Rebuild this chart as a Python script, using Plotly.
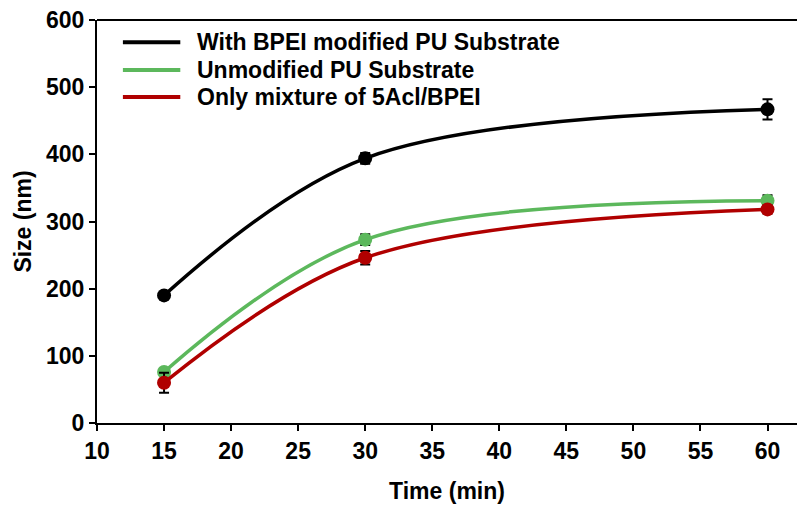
import plotly.graph_objects as go

time = [15, 30, 60]
bpei_mod = [190, 394, 467]
bpei_mod_err = [4, 8, 15]
unmod = [76, 273, 331]
unmod_err = [4, 8, 8]
mixture = [60, 246, 318]
mixture_err = [15, 10, 6]

names = ["With BPEI modified PU Substrate", "Unmodified PU Substrate", "Only mixture of 5Acl/BPEI"]
colors = ["#000000", "#5cb85c", "#b00000"]
series = [(bpei_mod, bpei_mod_err), (unmod, unmod_err), (mixture, mixture_err)]

font_fam = "Liberation Sans, Arial, sans-serif"
FS = 23

fig = go.Figure()
for name, col, (vals, err) in zip(names, colors, series):
    fig.add_trace(go.Scatter(
        x=time, y=vals, name=name, mode="lines+markers", showlegend=False,
        line=dict(color=col, width=3.5, shape="spline", smoothing=1.0),
        marker=dict(color=col, size=14, symbol="circle"),
        error_y=dict(type="data", array=err, color="#000000", thickness=2, width=5),
    ))

# manual legend (line swatches + text)
leg_y = [0.945, 0.876, 0.809]
for name, col, yy in zip(names, colors, leg_y):
    fig.add_shape(type="line", xref="paper", yref="paper", x0=0.037, x1=0.119, y0=yy, y1=yy,
                  line=dict(color=col, width=4))
    fig.add_annotation(xref="paper", yref="paper", x=0.140, y=yy, text=name, showarrow=False,
                       xanchor="left", yanchor="middle",
                       font=dict(size=FS, family=font_fam, color="black", weight="bold"))

fig.update_layout(
    width=797, height=506,
    margin=dict(l=97, r=0, t=20, b=83, autoexpand=False),
    plot_bgcolor="white", paper_bgcolor="white",
    font=dict(family=font_fam, color="black", size=FS),
    showlegend=False,
)
fig.update_xaxes(
    range=[10, 62.2], tickvals=[10, 15, 20, 25, 30, 35, 40, 45, 50, 55, 60],
    showline=True, linecolor="black", linewidth=2, mirror=False, automargin=False,
    ticks="outside", ticklen=6, tickwidth=2, tickcolor="black",
    showgrid=False, zeroline=False,
    tickfont=dict(size=FS, family=font_fam, weight="bold"),
    title=dict(text="Time (min)", font=dict(size=FS, family=font_fam, weight="bold"), standoff=20),
)
fig.update_yaxes(
    range=[0, 600], tickvals=[0, 100, 200, 300, 400, 500, 600],
    showline=True, linecolor="black", linewidth=2, automargin=False,
    ticks="outside", ticklen=6, tickwidth=2, tickcolor="black",
    showgrid=False, zeroline=False,
    tickfont=dict(size=FS, family=font_fam, weight="bold"),
    title=dict(text="Size (nm)", font=dict(size=FS, family=font_fam, weight="bold"), standoff=8),
)
fig.add_shape(type="line", xref="paper", yref="paper", x0=0, x1=1, y0=1, y1=1,
              line=dict(color="black", width=2))
fig.write_html("out.html", config={"displayModeBar": False},
               post_script="document.body.style.margin='0';document.body.style.overflow='hidden';")
